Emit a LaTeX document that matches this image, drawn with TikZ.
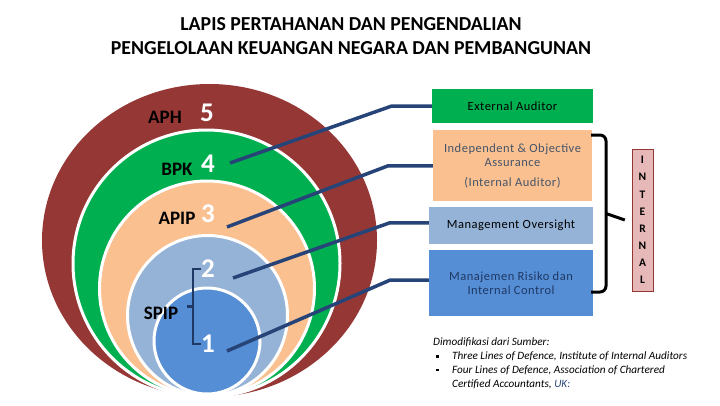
\documentclass[tikz,border=0pt]{standalone}
\usepackage{fontspec}
\setmainfont{Carlito}
\usepackage{xcolor}
\usepackage{tikz}
\usetikzlibrary{positioning,calc}
\definecolor{aphBG}{HTML}{953735}
\definecolor{bpkBG}{HTML}{00B050}
\definecolor{apipBG}{HTML}{FAC090}
\definecolor{mgtBG}{HTML}{95B3D7}
\definecolor{riskBG}{HTML}{558ED5}
\definecolor{lineBlue}{HTML}{264478}
\definecolor{spipBlue}{HTML}{1F3864}
\definecolor{indText}{HTML}{44546A}
\definecolor{internalBG}{HTML}{E6B9B8}
\definecolor{internalBorder}{HTML}{943634}
\newcommand{\srcbullet}{\makebox[19pt][l]{\hspace{3pt}\rule[2pt]{2.8pt}{2.8pt}}}

\begin{document}
\begin{tikzpicture}[
  x=1pt, y=-1pt,
  ring/.style={draw=white, line width=3pt},
  lvl/.style={font=\fontsize{27}{27}\selectfont\bfseries, text=white, inner sep=0pt},
  who/.style={font=\fontsize{19}{19}\selectfont\bfseries, inner sep=0pt},
  conn/.style={draw=lineBlue, line width=3.5pt},
  layer/.style={minimum width=161pt, align=center, inner sep=0pt,
    font=\fontsize{12.5}{14}\selectfont\addfontfeatures{LetterSpace=4}},
  brace/.style={draw=black, line width=3pt},
]
  \useasboundingbox (0,0) rectangle (720,405);

  \node[font=\fontsize{19.8}{24}\selectfont\bfseries, align=center] (title) at (351,36)
    {LAPIS PERTAHANAN DAN PENGENDALIAN\\PENGELOLAAN KEUANGAN NEGARA DAN PEMBANGUNAN};

  % nested rings
  \fill[aphBG] (209.5,240.5) ellipse [x radius=167.5pt, y radius=156.5pt];
  \filldraw[ring, fill=bpkBG] (206.5,263.5) circle [radius=133.5pt];
  \filldraw[ring, fill=apipBG] (207,288.5) circle [radius=107.5pt];
  \filldraw[ring, fill=mgtBG] (207.5,315.5) circle [radius=80pt];
  \filldraw[ring, fill=riskBG] (207,341) circle [radius=53pt];

  \node[lvl] (n5) at (207,113) {5};
  \node[lvl] (n4) at (208,164) {4};
  \node[lvl] (n3) at (208,214) {3};
  \node[lvl] (n2) at (208,269) {2};
  \node[lvl] (n1) at (208,344) {1};

  \node[who] (l5) at (165,117) {APH};
  \node[who] (l4) at (177,169) {BPK};
  \node[who] (l3) at (177,218) {APIP};
  \node[who] (l1) at (161,313) {SPIP};

  % SPIP bracket
  \draw[draw=spipBlue, line width=2.5pt] (n2.west) -- ++(-8,0) |- (n1.west);
  \draw[draw=spipBlue, line width=2.5pt] ($(n2.west)!0.5!(n1.west)+(-8,0)$) -- ++(-6,0);

  % layer boxes
  \node[layer, fill=bpkBG, minimum height=34pt] (ext) at (512.5,106) {External Auditor};
  \node[layer, fill=apipBG, minimum width=159pt, minimum height=71pt, text=indText,
    below=7pt of ext] (ind) {Independent \& Objective\\Assurance\\[6pt](Internal Auditor)};
  \node[layer, fill=mgtBG, minimum width=164pt, minimum height=37pt,
    below=5pt of ind, xshift=-1.5pt] (mgt) {Management Oversight};
  \node[layer, fill=riskBG, minimum width=164pt, minimum height=66pt, text=spipBlue,
    below=6pt of mgt] (risk) {Manajemen Risiko dan\\Internal Control};

  % connectors
  \coordinate (p4) at (230,163);
  \coordinate (p3) at (227,227);
  \coordinate (p2) at (233,278);
  \coordinate (p1) at (227,351);
  \draw[conn] (p4) -- ($(ext.west)+(-40,0)$) -- (ext.west);
  \draw[conn] (p3) -- ($(ind.west)+(-45,0)$) -- (ind.west);
  \draw[conn] (p2) -- ($([yshift=2.5pt]mgt.west)+(-39,0)$) -- ([yshift=2.5pt]mgt.west);
  \draw[conn] (p1) -- ($([yshift=3pt]risk.west)+(-39,0)$) -- ([yshift=3pt]risk.west);

  % internal
  \node[draw=internalBorder, fill=internalBG, minimum width=21pt, minimum height=142pt,
    align=center, inner sep=0pt, font=\fontsize{11.5}{17.1}\selectfont\bfseries]
    (intl) at (642.5,220) {I\\N\\T\\E\\R\\N\\A\\L};
  \coordinate (bt) at (591,135);
  \coordinate (bb) at (591,292);
  \coordinate (bm) at ($(bt)!0.5!(bb)+(15,0)$);
  \draw[brace, rounded corners=6pt] (bt) -| (bm) |- (bb);
  \draw[brace] (bm) -- ([xshift=-7pt]intl.west);

  % source
  \node[anchor=north west, align=left, inner sep=0pt, font=\fontsize{11.2}{13.7}\selectfont\itshape]
    (src) at (433,338) {Dimodifikasi dari Sumber:\\
    \srcbullet Three Lines of Defence, Institute of Internal Auditors\\
    \srcbullet Four Lines of Defence, Association of Chartered\\
    \hspace*{19pt}Certified Accountants, \textcolor{lineBlue}{UK:}};
\end{tikzpicture}
\end{document}
